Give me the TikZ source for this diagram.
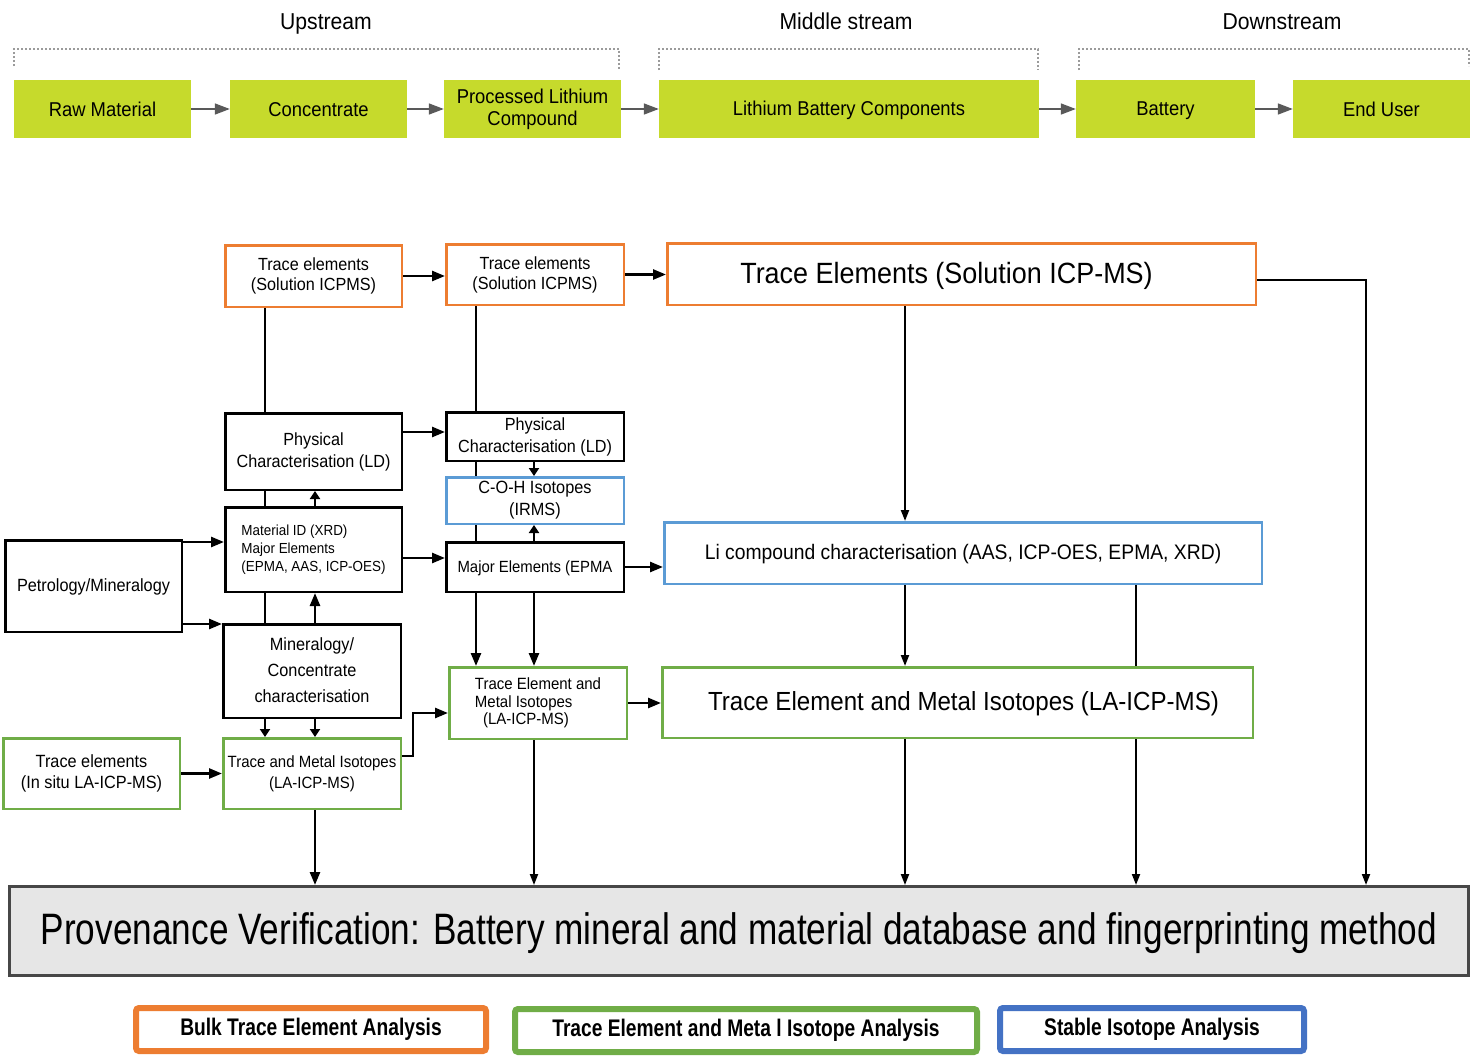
\documentclass[tikz,border=0pt]{standalone}
\usepackage{fontspec}
\setmainfont[FakeStretch=0.92]{Liberation Sans}
\newfontfamily\condfont[FakeStretch=0.8]{Liberation Sans}
\usetikzlibrary{arrows.meta,positioning,calc}
\definecolor{pvlime}{HTML}{C6DA2C}
\definecolor{pvorange}{HTML}{ED7D31}
\definecolor{pvgreen}{HTML}{70AD47}
\definecolor{pvblue}{HTML}{5B9BD5}
\definecolor{pvdeep}{HTML}{4472C4}
\definecolor{pvgrey}{HTML}{595959}
\definecolor{pvfill}{HTML}{E6E6E6}
\newcommand{\fs}[2]{\fontsize{#1}{#2}\selectfont}
\newcommand{\vstrut}{\rule[-0.08em]{0pt}{0.92em}}
\tikzset{
  stage/.style={fill=pvlime,minimum height=58pt,inner sep=0pt,align=center,
                font=\fs{20}{22},execute at begin node=\vstrut,execute at end node=\vstrut},
  head/.style={font=\fs{23}{26},inner sep=0pt,text height=16pt,text depth=0pt},
  brk/.style={draw=pvgrey!60,line width=1.2pt,dash pattern=on 2pt off 2pt},
  garr/.style={-{Triangle[length=15pt,width=11pt]},line width=1.6pt,pvgrey},
  sz/.style 2 args={minimum width={#1pt-2.5pt},minimum height={#2pt-2.5pt}},
  bx/.style={draw=black,line width=2.5pt,fill=white,inner sep=0pt,align=center,
             execute at begin node=\vstrut,execute at end node=\vstrut},
  obox/.style={bx,draw=pvorange},
  gbox/.style={bx,draw=pvgreen},
  bbox/.style={bx,draw=pvblue},
  key/.style={draw,line width=6pt,rounded corners=3pt,fill=white,inner sep=0pt,
              minimum height=43pt,font=\condfont\bfseries\fs{24}{26}},
  ln/.style={line width=2.6pt,black},
  lnt/.style={line width=2pt,black},
  arr/.style={ln,-{Triangle[length=13pt,width=10pt]}},
  arrs/.style={ln,-{Triangle[length=8pt,width=10pt]}},
  arrt/.style={lnt,-{Triangle[length=11pt,width=8pt]}},
}
\begin{document}
\begin{tikzpicture}[x=1pt,y=-1pt]
  \useasboundingbox (0,0) rectangle (1473,1060);
  % supply chain
  \node[head] (hup) at (326,21) {Upstream};
  \node[head] (hmid) at (846,21) {Middle stream};
  \node[head] (hdown) at (1282,21) {Downstream};
  \draw[brk] (14,66) |- (619,49) -- (619,70);
  \draw[brk] (659,70) |- (1038,49) -- (1038,70);
  \draw[brk] (1079,70) |- (1469,49) -- (1469,66);
  \foreach \n/\x/\w/\t in {raw/102.5/177/Raw Material,conc/318.5/177/Concentrate,
      plc/532.5/177/Processed Lithium\\Compound,lbc/849/380/Lithium Battery Components,
      batt/1165.5/179/Battery,user/1381.5/177/End User}
    {\node[stage,minimum width=\w pt] (\n) at (\x,109) {\t};}
  \foreach \a/\b in {raw/conc,conc/plc,plc/lbc,lbc/batt,batt/user}
    {\draw[garr] (\a) -- (\b);}

  % analysis boxes
  \node[obox,sz={179}{64},font=\fs{17.6}{20}] (te1) at (313.5,276) {Trace elements\\(Solution ICPMS)};
  \node[obox,sz={180}{63},font=\fs{17.6}{20}] (te2) at (535,274.5) {Trace elements\\(Solution ICPMS)};
  \node[obox,sz={591}{64},font=\fs{29.3}{32}] (te3) at (961.5,274) {Trace Elements (Solution ICP-MS)\hspace*{30pt}};
  \node[bx,sz={179}{79},font=\fs{17.6}{22}] (pc1) at (313.5,451.5) {Physical\\Characterisation (LD)};
  \node[bx,sz={180}{51},font=\fs{17.6}{22}] (pc2) at (535,436.5) {Physical\\Characterisation (LD)};
  \node[bbox,sz={180}{49},font=\fs{17.7}{22}] (coh) at (535,500.5) {C-O-H Isotopes\\(IRMS)};
  \node[bx,sz={179}{87},font=\fs{14.6}{18},align=left] (mid) at (313.5,549.5)
    {Material ID (XRD)\\Major Elements\\(EPMA, AAS, ICP-OES)};
  \node[bx,sz={180}{52},font=\fs{16.2}{19}] (me) at (535,567) {Major Elements (EPMA};
  \node[bbox,sz={600}{64},font=\fs{21}{24}] (lic) at (963,553)
    {Li compound characterisation (AAS, ICP-OES, EPMA, XRD)};
  \node[bx,sz={179}{94},font=\fs{17.7}{20}] (pm) at (93.5,586) {Petrology/Mineralogy};
  \node[bx,sz={180}{96},font=\fs{17.7}{26}] (mc) at (312,671)
    {Mineralogy/\\Concentrate\\characterisation};
  \node[gbox,sz={180}{74},font=\fs{16.3}{17.5},align=left] (temi) at (538,703)
    {Trace Element and\\Metal Isotopes\\\hspace*{0.5em}(LA-ICP-MS)};
  \node[gbox,sz={593}{73},font=\fs{26.2}{29}] (temi2) at (957.5,702.5)
    {\hspace*{12pt}Trace Element and Metal Isotopes (LA-ICP-MS)};
  \node[gbox,sz={179}{73},font=\fs{17.7}{21}] (tei) at (91.5,773.5) {Trace elements\\(In situ LA-ICP-MS)};
  \node[gbox,sz={180}{73},font=\fs{16.3}{21}] (tmi) at (312,773.5) {Trace and Metal Isotopes\\(LA-ICP-MS)};
  \node[bx,draw=pvgrey!80!black,line width=3pt,fill=pvfill,minimum width=1459pt,
        minimum height=89pt,font=\condfont\fs{44}{48}] (pv) at (739,931)
    {Provenance Verification: Battery mineral and material database and fingerprinting method};

  % legend
  \node[key,draw=pvorange,minimum width=350pt] (kbulk) at (311,1029.5) {Bulk Trace Element Analysis};
  \node[key,draw=pvgreen,minimum width=462pt] (kmetal) at (746,1030.5) {Trace Element and Meta l Isotope Analysis};
  \node[key,draw=pvdeep,minimum width=304pt] (kstab) at (1152,1029.5) {Stable Isotope Analysis};

  % columns of the vertical connectors
  \coordinate (cA) at (265,0);
  \coordinate (cB) at (315,0);
  \coordinate (cC) at (476,0);
  \coordinate (cD) at (534,0);
  \coordinate (cE) at (905,0);
  \coordinate (cF) at (1136,0);
  \coordinate (cG) at (1366,0);

  % left column
  \draw[ln] (te1.south -| cA) -- (pc1.north -| cA);
  \draw[ln] (pc1.south -| cA) -- (mid.north -| cA);
  \draw[ln] (mid.south -| cA) -- (mc.north -| cA);
  \draw[arrs] (mc.south -| cA) -- (tmi.north -| cA);
  \draw[arrs] (mid.north -| cB) -- (pc1.south -| cB);
  \draw[arr] (mc.north -| cB) -- (mid.south -| cB);
  \draw[arrs] (mc.south -| cB) -- (tmi.north -| cB);
  \draw[arr] ([yshift=-3pt]pm.north east) -- ([yshift=-3pt]pm.north east -| mid.west);
  \draw[arr] ([yshift=9pt]pm.south east) -- ([yshift=9pt]pm.south east -| mc.west);
  \draw[arr] (tei) -- (tmi);
  \draw[arr] (tmi.south -| cB) -- (pv.north -| cB);

  % middle column
  \draw[arr] (te1.east) -- (te1.east -| te2.west);
  \draw[arr] (te2.east) -- (te2.east -| te3.west);
  \draw[arr] ([yshift=4.5pt]pc2.west -| pc1.east) -- ([yshift=4.5pt]pc2.west);
  \draw[ln] (te2.south -| cC) -- (pc2.north -| cC);
  \draw[ln] (pc2.south -| cC) -- (coh.north -| cC);
  \draw[ln] (coh.south -| cC) -- (me.north -| cC);
  \draw[arr] (me.south -| cC) -- (temi.north -| cC);
  \draw[arrs] (pc2.south -| cD) -- (coh.north -| cD);
  \draw[arrs] (me.north -| cD) -- (coh.south -| cD);
  \draw[arr] (me.south -| cD) -- (temi.north -| cD);
  \draw[arr] ([yshift=-8.5pt]mid.east) -- ([yshift=-8.5pt]mid.east -| me.west);
  \draw[arr] (me.east) -- (me.east -| lic.west);
  \draw[arr] ([yshift=17.5pt]tmi.east) -- ++(11,0) |- ([yshift=-10pt]temi.west);
  \draw[arr] (temi.east) -- (temi.east -| temi2.west);
  \draw[arrt] (temi.south -| cD) -- (pv.north -| cD);

  % right column
  \draw[arrt] (te3.south -| cE) -- (lic.north -| cE);
  \draw[arrt] (lic.south -| cE) -- (temi2.north -| cE);
  \draw[arrt] (temi2.south -| cE) -- (pv.north -| cE);
  \draw[lnt] (lic.south -| cF) -- (temi2.north -| cF);
  \draw[arrt] (temi2.south -| cF) -- (pv.north -| cF);
  \draw[arrt] ([yshift=-6pt]te3.east) -| (pv.north -| cG);
\end{tikzpicture}
\end{document}
